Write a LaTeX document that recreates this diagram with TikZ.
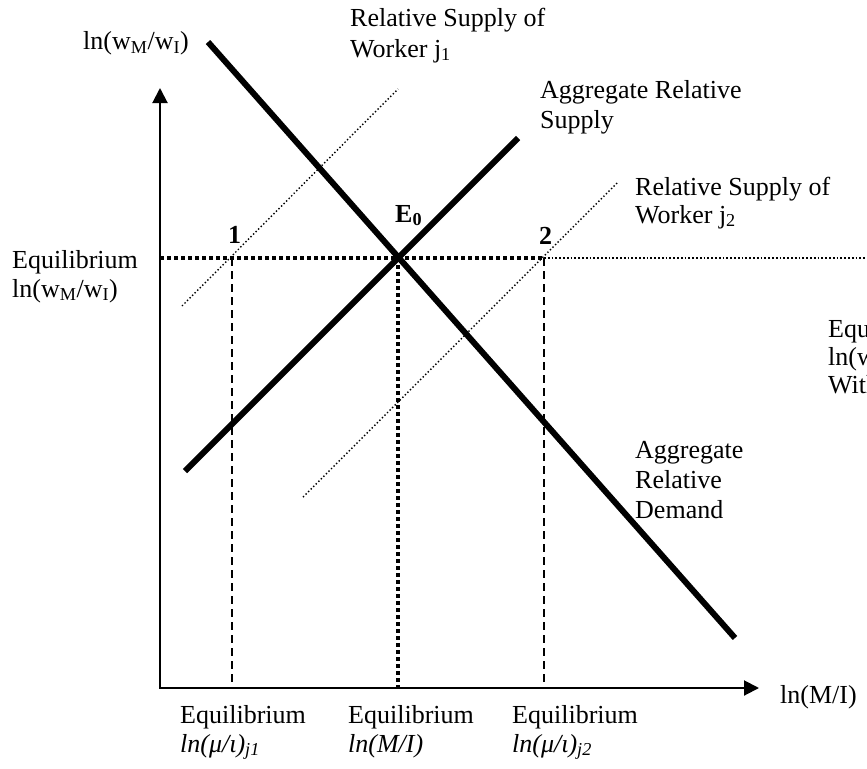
\documentclass[tikz,border=0pt]{standalone}
\usepackage{fontspec}
\setmainfont{Liberation Serif}
\usetikzlibrary{arrows.meta}
\begin{document}
\begin{tikzpicture}[x=1pt,y=-1pt,
  lbl/.style={anchor=base west, inner sep=0pt, font=\fontsize{26}{29}\selectfont},
  axis/.style={line width=2pt, {Triangle[width=15pt,length=15pt]}-{Triangle[width=15pt,length=15pt]}},
  thickline/.style={line width=6pt},
  thickdot/.style={line width=3.5pt, dash pattern=on 3.5pt off 3.5pt},
  dashline/.style={line width=2pt, dash pattern=on 8pt off 5pt},
  thindot/.style={line width=1.4pt, dash pattern=on 1.4pt off 2.2pt},
  halfdot/.style={line width=1.8pt, dash pattern=on 1.8pt off 2pt}]
\useasboundingbox (0,0) rectangle (867,768);
\clip (0,0) rectangle (867,768);
% coordinates
\coordinate (O) at (160,688);
\coordinate (Ytip) at (160,88);
\coordinate (Xtip) at (759,688);
\coordinate (E0) at (398,258);
\coordinate (P1) at (232,258);
\coordinate (P2) at (544,258);
\coordinate (Lft) at (160,258);
\coordinate (Rgt) at (870,258);
\coordinate (B1) at (232,688);
\coordinate (B0) at (398,688);
\coordinate (B2) at (544,688);
\coordinate (ADa) at (208,42);
\coordinate (ADb) at (735,638);
\coordinate (ASa) at (185,471);
\coordinate (ASb) at (518,138);
\coordinate (J1a) at (182,306);
\coordinate (J1b) at (398,89);
\coordinate (J2a) at (303,497);
\coordinate (J2b) at (617,183);
% guide lines
\draw[thickdot] (Lft) -- (P2);
\draw[halfdot] (P2) -- (Rgt);
\draw[thickdot] (E0) -- (B0);
\draw[dashline] (P1) -- (B1);
\draw[dashline] (P2) -- (B2);
% individual supplies
\draw[thindot] (J1a) -- (J1b);
\draw[thindot] (J2a) -- (J2b);
% aggregate curves
\draw[thickline] (ADa) -- (ADb);
\draw[thickline] (ASa) -- (ASb);
% axes
\draw[axis] (Ytip) -- (O) -- (Xtip);
% labels
\node[lbl] (ylab) at (83,50) {ln(w\textsubscript{M}/w\textsubscript{I})};
\node[lbl] (j1a) at (350,27) {Relative Supply of};
\node[lbl] (j1b) at (350,57) {Worker j\textsubscript{1}};
\node[lbl] (asa) at (540,98) {Aggregate Relative};
\node[lbl] (asb) at (540,128) {Supply};
\node[lbl] (j2a) at (635,195) {Relative Supply of};
\node[lbl] (j2b) at (635,223) {Worker j\textsubscript{2}};
\node[lbl] (e0lab) at (395,222) {\textbf{E\textsubscript{0}}};
\node[lbl] (p1lab) at (228,243) {\textbf{1}};
\node[lbl] (p2lab) at (539,244) {\textbf{2}};
\node[lbl] (eqa) at (12,268) {Equilibrium};
\node[lbl] (eqb) at (12,297) {ln(w\textsubscript{M}/w\textsubscript{I})};
\node[lbl] (rta) at (828,337) {Equilibrium};
\node[lbl] (rtb) at (828,365) {ln(w\textsubscript{M}/w\textsubscript{I})};
\node[lbl] (rtc) at (828,393) {Without};
\node[lbl] (ada) at (635,458) {Aggregate};
\node[lbl] (adb) at (635,488) {Relative};
\node[lbl] (adc) at (635,518) {Demand};
\node[lbl] (xlab) at (780,703) {ln(M/I)};
\node[lbl] (b1a) at (180,723) {Equilibrium};
\node[lbl] (b1b) at (180,752) {\textit{ln(μ/ι)\textsubscript{j1}}};
\node[lbl] (b0a) at (348,723) {Equilibrium};
\node[lbl] (b0b) at (348,752) {\textit{ln(M/I)}};
\node[lbl] (b2a) at (512,723) {Equilibrium};
\node[lbl] (b2b) at (512,752) {\textit{ln(μ/ι)\textsubscript{j2}}};
\end{tikzpicture}
\end{document}
